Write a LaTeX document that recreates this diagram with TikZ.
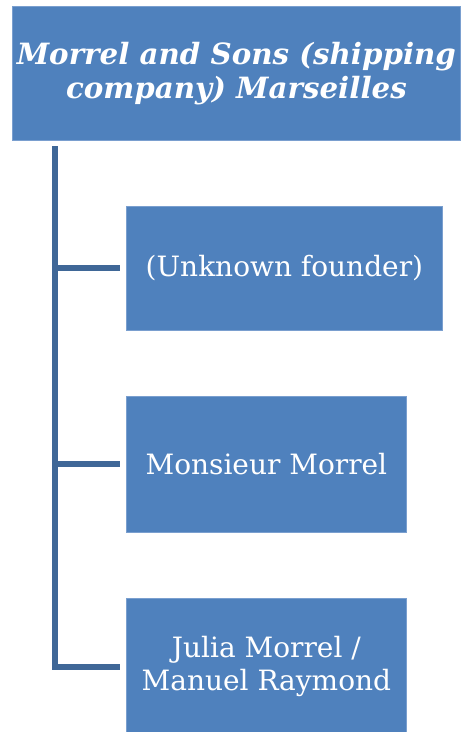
\documentclass[tikz,border=0pt]{standalone}
\usepackage{fontspec}
\setmainfont{DejaVu Serif}
\definecolor{boxfill}{HTML}{4F81BD}
\definecolor{boxedge}{HTML}{7A9FCF}
\definecolor{linecol}{HTML}{3F6797}
\begin{document}
\begin{tikzpicture}[x=1pt,y=-1pt,
  boxstyle/.style={fill=boxfill,draw=boxedge,line width=0.8pt,text=white,align=center,inner sep=0pt,anchor=north west},
  childfont/.style={font=\fontsize{28}{33}\selectfont},
  conn/.style={draw=linecol,line width=6pt,shorten >=6pt}]
\useasboundingbox (0,0) rectangle (461,732);
\node[boxstyle,minimum width=448pt,minimum height=134pt,font=\fontsize{29.3}{34}\selectfont\bfseries\itshape] (top) at (12,6) {Morrel and Sons (shipping\\company) Marseilles};
\node[boxstyle,childfont,minimum width=316pt,minimum height=124pt] (c1) at (126,206) {(Unknown founder)};
\node[boxstyle,childfont,minimum width=280pt,minimum height=136pt] (c2) at (126,396) {Monsieur Morrel};
\node[boxstyle,childfont,minimum width=280pt,minimum height=136pt] (c3) at (126,598) {Julia Morrel /\\Manuel Raymond};
\coordinate (vtop) at (55,146);
\coordinate (vbot) at (55,667);
\draw[conn] (vtop) -- (vbot) -- (vbot -| c3.west);
\draw[conn] (55,268) -- (c1.west |- 55,268);
\draw[conn] (55,464) -- (c2.west |- 55,464);
\end{tikzpicture}
\end{document}
